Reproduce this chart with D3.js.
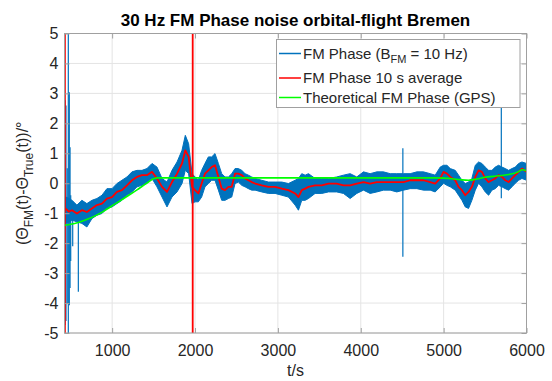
<!DOCTYPE html>
<html>
<head>
<meta charset="utf-8">
<script src="https://cdn.jsdelivr.net/npm/d3@7"></script>
<style>
  body { margin: 0; background: #fff; }
  svg { display: block; font-family: "Liberation Sans", Arial, Helvetica, sans-serif; }
</style>
</head>
<body>
<div id="chart"></div>
<script>
// time grid (s), with the 10 s average and the noisy band edges
const sampleT = [440,475,515,575,635,695,756,816,877,937,998,1058,1118,1179,1239,1300,1360,1420,1481,1541,1602,1662,1722,1783,1843,1883,1923,1964,
  2000,2040,2080,2120,2161,2201,2241,2282,2322,2362,2403,2443,2483,2523,2564,2604,2644,2684,2725,2805,2886,2966,3047,3127,3208,3248,3288,3329,3369,3449,3530,3610,
  3710,3791,3872,3952,4033,4113,4194,4274,4355,4435,4516,4596,4677,4757,4838,4898,
  4959,4999,5040,5080,5140,5180,5221,5261,5301,5341,5382,5422,5462,5502,5543,5583,5623,5663,5704,5744,5784,5825,5865,5905,5945,6000];
const avgPhase = [-0.85,-0.95,-0.90,-1.01,-0.90,-0.96,-0.84,-0.73,-0.68,-0.51,-0.46,-0.29,-0.23,-0.07,0.10,0.21,0.27,0.27,0.38,0.16,-0.12,-0.29,0.04,0.32,0.66,1.10,0.88,-0.12,
  -0.23,-0.34,-0.01,0.32,0.43,0.54,0.60,0.21,-0.18,-0.23,-0.12,-0.12,0.32,0.32,0.27,0.16,0.10,0.04,-0.01,-0.07,-0.12,-0.12,-0.18,-0.23,-0.34,-0.46,-0.23,-0.18,-0.12,-0.07,-0.07,-0.01,
  -0.01,-0.07,-0.07,-0.01,0.04,-0.01,0.04,0.04,0.04,0.04,0.04,0.10,0.10,0.10,0.04,-0.01,
  0.16,0.38,0.32,0.21,0.10,-0.12,-0.23,-0.40,-0.29,-0.12,0.21,0.43,0.38,0.16,0.04,0.10,0.16,0.27,0.21,0.10,0.04,0.16,0.27,0.38,0.49,0.38];
const phaseHi = [-0.46,-0.50,-0.57,-0.73,-0.57,-0.68,-0.57,-0.51,-0.40,-0.18,-0.18,-0.01,0.10,0.21,0.38,0.43,0.43,0.49,0.66,0.54,0.16,0.04,0.43,0.71,1.10,1.60,1.32,0.32,
  0.21,0.10,0.43,0.66,0.88,0.88,0.99,0.66,0.32,0.21,0.21,0.32,0.49,0.49,0.43,0.32,0.27,0.21,0.16,0.10,0.04,0.04,0.04,-0.01,0.10,0.16,0.32,0.27,0.32,0.16,0.16,0.16,
  0.21,0.27,0.32,0.21,0.38,0.32,0.38,0.38,0.32,0.32,0.32,0.32,0.38,0.38,0.32,0.27,
  0.54,0.60,0.60,0.49,0.43,0.27,0.10,-0.01,0.04,0.16,0.60,0.71,0.66,0.54,0.43,0.43,0.54,0.60,0.54,0.49,0.43,0.49,0.54,0.66,0.71,0.66];
const phaseLo = [-1.34,-1.30,-1.23,-1.29,-1.34,-1.46,-1.18,-1.07,-1.01,-0.84,-0.79,-0.68,-0.57,-0.40,-0.29,-0.12,-0.07,-0.01,0.16,-0.12,-0.46,-0.79,-0.46,-0.29,-0.01,0.43,0.32,-0.68,
  -0.62,-0.62,-0.46,-0.12,-0.01,0.10,0.10,-0.23,-0.57,-0.57,-0.51,-0.46,-0.01,0.04,-0.07,-0.12,-0.18,-0.23,-0.23,-0.29,-0.34,-0.34,-0.40,-0.46,-0.73,-0.90,-0.57,-0.57,-0.51,-0.34,-0.34,-0.29,
  -0.29,-0.34,-0.51,-0.34,-0.23,-0.34,-0.29,-0.23,-0.23,-0.29,-0.23,-0.18,-0.18,-0.23,-0.23,-0.29,
  -0.12,0.00,-0.07,-0.12,-0.23,-0.40,-0.57,-0.79,-0.84,-0.57,-0.23,0.00,-0.12,-0.29,-0.40,-0.23,-0.18,-0.07,-0.12,-0.18,-0.23,-0.12,0.00,0.10,0.16,0.10];

// isolated outliers of the raw FM phase
const spikeT  = [431, 443, 458, 471, 483, 492, 500, 524, 592, 4508, 5696];
const spikeHi = [2.77, 2.6, 0.5, 6, 3.04, 1.2, -0.4, -0.6, -1.0, 1.17, 2.6];
const spikeLo = [-4.73, -4.6, -4.0, -6, -4.07, -3.5, -2.6, -2.1, -3.62, -2.45, -0.5];

// phase wraps in the averaged series
const jumpT = [430, 1972];

// theoretical phase from GPS
const gpsT = [425,500,600,700,800,900,1000,1100,1200,1300,1400,1500,1550,2000,3000,4000,4900,5000,5100,5200,5300,5400,5500,5600,5700,5800,5900,5950,6000];
const gpsV = [-1.4,-1.37,-1.3,-1.2,-1.08,-0.93,-0.75,-0.58,-0.4,-0.22,-0.03,0.15,0.18,0.18,0.18,0.18,0.18,0.17,0.15,0.12,0.1,0.14,0.2,0.23,0.26,0.3,0.38,0.45,0.42];

const xTicks = [1000, 2000, 3000, 4000, 5000, 6000];
const yTicks = [-5, -4, -3, -2, -1, 0, 1, 2, 3, 4, 5];

const W = 552, H = 381;
const L = 64.5, R = 526.5, T = 33.5, B = 333;
const BLUE = '#0072BD', RED = '#FF0000', GREEN = '#00FF00';
const BOX = '#a0a0a0', INK = '#262626';

const svg = d3.select('#chart').append('svg').attr('width', W).attr('height', H);

const x = d3.scaleLinear().domain([425, 6000]).range([L, R]);
const y = d3.scaleLinear().domain([-5, 5]).range([B, T]);

svg.append('defs').append('clipPath').attr('id', 'plot')
  .append('rect').attr('x', L).attr('y', T).attr('width', R - L).attr('height', B - T);

// grid
const grid = svg.append('g').attr('stroke', '#e4e4e4').attr('stroke-width', 1);
grid.selectAll('.gx').data(xTicks).enter().append('line')
  .attr('x1', d => x(d)).attr('x2', d => x(d)).attr('y1', T).attr('y2', B);
grid.selectAll('.gy').data(yTicks).enter().append('line')
  .attr('y1', d => y(d)).attr('y2', d => y(d)).attr('x1', L).attr('x2', R);

const plot = svg.append('g').attr('clip-path', 'url(#plot)');

const rows = sampleT.map((t, i) => ({ t, avg: avgPhase[i], hi: phaseHi[i], lo: phaseLo[i] }));

// raw FM phase: dense noise band
plot.append('path').datum(rows)
  .attr('d', d3.area().x(d => x(d.t)).y0(d => y(d.lo)).y1(d => y(d.hi)))
  .attr('fill', BLUE).attr('stroke', BLUE).attr('stroke-width', 1).attr('stroke-linejoin', 'miter');

plot.selectAll('.spike').data(spikeT).enter().append('line')
  .attr('x1', d => x(d)).attr('x2', d => x(d))
  .attr('y1', (d, i) => y(spikeHi[i])).attr('y2', (d, i) => y(spikeLo[i]))
  .attr('stroke', BLUE).attr('stroke-width', 1.2);

// 10 s average
plot.append('path').datum(rows)
  .attr('d', d3.line().x(d => x(d.t)).y(d => y(d.avg)))
  .attr('fill', 'none').attr('stroke', RED).attr('stroke-width', 1.8).attr('stroke-linejoin', 'round');

plot.selectAll('.jump').data(jumpT).enter().append('line')
  .attr('x1', d => x(d)).attr('x2', d => x(d)).attr('y1', y(6)).attr('y2', y(-6))
  .attr('stroke', RED).attr('stroke-width', 1.8);

// theoretical
plot.append('path').datum(gpsT.map((t, i) => [t, gpsV[i]]))
  .attr('d', d3.line().x(d => x(d[0])).y(d => y(d[1])).curve(d3.curveMonotoneX))
  .attr('fill', 'none').attr('stroke', GREEN).attr('stroke-width', 1.6);

// axes box + ticks
const plain = d => String(d);
function styleAxis(g) {
  g.select('.domain').remove();
  g.selectAll('.tick line').attr('stroke', BOX);
  g.selectAll('.tick text').attr('fill', INK).attr('font-size', 16);
}
svg.append('g').attr('transform', `translate(0,${B})`)
  .call(d3.axisBottom(x).tickValues(xTicks).tickFormat(plain).tickSizeInner(-5).tickSizeOuter(0).tickPadding(12))
  .call(styleAxis);
svg.append('g').attr('transform', `translate(0,${T})`)
  .call(d3.axisTop(x).tickValues(xTicks).tickSizeInner(-5).tickSizeOuter(0).tickFormat(''))
  .call(styleAxis);
svg.append('g').attr('transform', `translate(${L},0)`)
  .call(d3.axisLeft(y).tickValues(yTicks).tickFormat(plain).tickSizeInner(-5).tickSizeOuter(0).tickPadding(6))
  .call(styleAxis);
svg.append('g').attr('transform', `translate(${R},0)`)
  .call(d3.axisRight(y).tickValues(yTicks).tickSizeInner(-5).tickSizeOuter(0).tickFormat(''))
  .call(styleAxis);
svg.append('rect').attr('x', L).attr('y', T).attr('width', R - L).attr('height', B - T)
  .attr('fill', 'none').attr('stroke', BOX).attr('stroke-width', 1);

// title & labels
svg.append('text').attr('x', (L + R) / 2).attr('y', 26).attr('text-anchor', 'middle')
  .attr('font-size', 17).attr('font-weight', 'bold').attr('fill', '#000')
  .text('30 Hz FM Phase noise orbital-flight Bremen');

svg.append('text').attr('x', (L + R) / 2).attr('y', 376).attr('text-anchor', 'middle')
  .attr('font-size', 16).attr('fill', INK).text('t/s');

const yl = svg.append('text').attr('transform', `translate(28,${(T + B) / 2}) rotate(-90)`)
  .attr('text-anchor', 'middle').attr('font-size', 16).attr('fill', INK);
[['(Θ', 0], ['FM', 1], ['(t)-Θ', 0], ['True', 1], ['(t))/°', 0]].forEach(([s, sub], i, arr) => {
  const prevSub = i > 0 ? arr[i - 1][1] : 0;
  yl.append('tspan').text(s)
    .attr('font-size', sub ? 12 : 16)
    .attr('dy', sub ? 5 : (prevSub ? -5 : 0));
});

// legend
const lg = svg.append('g');
lg.append('rect').attr('x', 276.5).attr('y', 39.5).attr('width', 243.5).attr('height', 68)
  .attr('fill', '#fff').attr('stroke', BOX).attr('stroke-width', 1);
const entries = [
  { color: BLUE, ly: 53.5, ty: 58.5 },
  { color: RED, ly: 78, ty: 83 },
  { color: GREEN, ly: 97.5, ty: 102.5 }
];
entries.forEach(e => {
  lg.append('line').attr('x1', 279).attr('x2', 301).attr('y1', e.ly).attr('y2', e.ly)
    .attr('stroke', e.color).attr('stroke-width', 1.5);
});
const t1 = lg.append('text').attr('x', 303).attr('y', entries[0].ty).attr('font-size', 15).attr('fill', INK);
t1.append('tspan').text('FM Phase (B');
t1.append('tspan').text('FM').attr('font-size', 11).attr('dy', 4);
t1.append('tspan').text(' = 10 Hz)').attr('dy', -4);
lg.append('text').attr('x', 303).attr('y', entries[1].ty).attr('font-size', 15).attr('fill', INK)
  .text('FM Phase 10 s average');
lg.append('text').attr('x', 303).attr('y', entries[2].ty).attr('font-size', 15).attr('fill', INK)
  .text('Theoretical FM Phase (GPS)');
</script>
</body>
</html>
